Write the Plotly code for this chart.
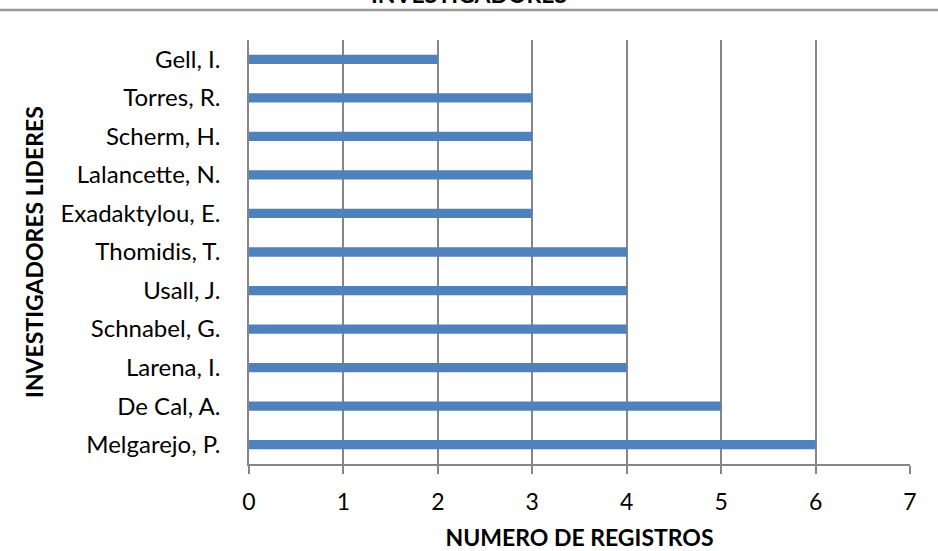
import plotly.graph_objects as go

investigadores = ["Melgarejo, P.", "De Cal, A.", "Larena, I.", "Schnabel, G.", "Usall, J.",
                  "Thomidis, T.", "Exadaktylou, E.", "Lalancette, N.", "Scherm, H.",
                  "Torres, R.", "Gell, I."]
registros = [6, 5, 4, 4, 4, 4, 3, 3, 3, 3, 2]
x_ticks = [0, 1, 2, 3, 4, 5, 6, 7]

W, H = 938, 551
L, R, T, B = 249, 28, 40, 87
ph = H - T - B

font = "Lato, 'Open Sans', sans-serif"
grid = "#868686"

fig = go.Figure(go.Bar(
    y=investigadores, x=registros, orientation="h",
    marker=dict(color="#4F81BD", line=dict(width=0)),
    width=0.24,
))

fig.update_layout(
    width=W, height=H,
    margin=dict(l=L, r=R, t=T, b=B),
    paper_bgcolor="white", plot_bgcolor="white",
    showlegend=False,
    font=dict(family=font, size=24, color="black"),
    xaxis=dict(
        range=[0, 7], tickvals=x_ticks, showgrid=True, gridcolor=grid, gridwidth=1.5,
        showline=True, linecolor=grid, linewidth=1.5,
        ticks="outside", ticklen=8, tickcolor=grid, tickwidth=1.5,
        tickfont=dict(size=23), zeroline=False, ticklabelstandoff=9,
        automargin=False,
        title=dict(text="<b>NUMERO DE REGISTROS</b>", font=dict(size=23), standoff=24),
    ),
    yaxis=dict(
        showgrid=False, showline=True, linecolor=grid, linewidth=1.5,
        ticks="", tickfont=dict(size=24), ticklabelstandoff=22,
        range=[-0.5, 10.5], automargin=False,
        title=dict(text="<b>INVESTIGADORES LIDERES</b>", font=dict(size=23), standoff=10),
    ),
    shapes=[dict(type="line", xref="paper", yref="paper",
                 x0=-L / (W - L - R), x1=(W - L) / (W - L - R),
                 y0=1 + 30 / ph, y1=1 + 30 / ph,
                 line=dict(color="#9a9a9a", width=2.5))],
    annotations=[dict(text="<b>INVESTIGADORES</b>", xref="paper", yref="paper",
                      x=(469 - L) / (W - L - R), y=1 + 30 / ph,
                      xanchor="center", yanchor="bottom", showarrow=False,
                      font=dict(size=23))],
)

fig.write_html("out.html", config={"displayModeBar": False},
               post_script="document.body.style.margin='0';")
